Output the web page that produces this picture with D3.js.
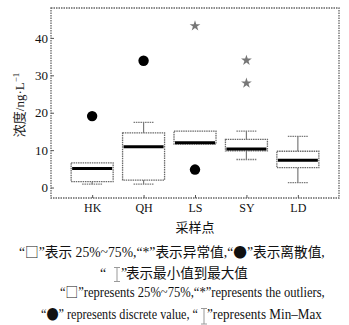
<!DOCTYPE html>
<html>
<head>
<meta charset="utf-8">
<script src="https://cdn.jsdelivr.net/npm/d3@7"></script>
<style>
  html, body { margin: 0; padding: 0; background: #fff; }
  svg { display: block; }
</style>
</head>
<body>
<svg id="chart" width="349" height="325"></svg>
<script>
// Sampling sites and box statistics (ng/L)
const sites = ["HK", "QH", "LS", "SY", "LD"];
const whiskerLow  = [0.9, 0.9, 11.6, 7.5, 1.3];
const q1          = [1.6, 2.0, 11.6, 9.8, 5.3];
const median      = [5.1, 10.9, 12.0, 10.3, 7.3];
const q3          = [6.6, 14.6, 15.1, 12.9, 9.7];
const whiskerHigh = [6.6, 17.4, 15.1, 15.1, 13.7];

// Discrete values (filled dots) and outliers (stars)
const discreteSites  = ["HK", "QH", "LS"];
const discreteValues = [19.1, 33.9, 4.8];
const outlierSites   = ["LS", "SY", "SY"];
const outlierValues  = [43.2, 34.0, 27.9];

const yTicks = [0, 10, 20, 30, 40];

const svg = d3.select("#chart");
const frame = { left: 51, right: 339, top: 8, bottom: 198 };

const x = d3.scalePoint().domain(sites).range([frame.left, frame.right]).padding(0.8);
const y = d3.scaleLinear().domain([-2.8, 48]).range([frame.bottom, frame.top]);

const serif = "'Liberation Serif', 'Times New Roman', serif";
const cjk = "'Noto Sans CJK SC', sans-serif";
const gray = "#7a7a7a";

// Plot frame (dotted)
svg.append("rect")
  .attr("x", frame.left).attr("y", frame.top)
  .attr("width", frame.right - frame.left).attr("height", frame.bottom - frame.top)
  .attr("fill", "none").attr("stroke", "#666").attr("stroke-width", 1.3)
  .attr("stroke-dasharray", "1.5,1");

// Y axis ticks and labels
const yAxis = d3.axisLeft(y).tickValues(yTicks).tickSizeInner(-3).tickSizeOuter(0).tickPadding(3);
const gy = svg.append("g").attr("transform", `translate(${frame.left},0)`).call(yAxis);
gy.select(".domain").remove();
gy.selectAll(".tick line").attr("stroke", "#555").attr("stroke-width", 1);
gy.selectAll(".tick text").attr("font-family", serif).attr("font-size", 13).attr("fill", "#111");

// X axis ticks and labels
const xAxis = d3.axisBottom(x).tickSizeInner(-3).tickSizeOuter(0).tickPadding(5);
const gx = svg.append("g").attr("transform", `translate(0,${frame.bottom})`).call(xAxis);
gx.select(".domain").remove();
gx.selectAll(".tick line").attr("stroke", "#555").attr("stroke-width", 1);
gx.selectAll(".tick text").attr("font-family", serif).attr("font-size", 12).attr("fill", "#111");

// Boxes with whiskers and medians
const boxW = 42, capW = 20;
const boxes = svg.append("g");
sites.forEach((s, i) => {
  const cx = x(s);
  const g = boxes.append("g");
  if (whiskerHigh[i] > q3[i]) {
    g.append("line").attr("x1", cx).attr("x2", cx)
      .attr("y1", y(q3[i])).attr("y2", y(whiskerHigh[i]))
      .attr("stroke", gray).attr("stroke-width", 1.2);
    g.append("line").attr("x1", cx - capW / 2).attr("x2", cx + capW / 2)
      .attr("y1", y(whiskerHigh[i])).attr("y2", y(whiskerHigh[i]))
      .attr("stroke", gray).attr("stroke-width", 1.3).attr("stroke-dasharray", "1.5,0.8");
  }
  if (whiskerLow[i] < q1[i]) {
    g.append("line").attr("x1", cx).attr("x2", cx)
      .attr("y1", y(q1[i])).attr("y2", y(whiskerLow[i]))
      .attr("stroke", gray).attr("stroke-width", 1.2);
    g.append("line").attr("x1", cx - capW / 2).attr("x2", cx + capW / 2)
      .attr("y1", y(whiskerLow[i])).attr("y2", y(whiskerLow[i]))
      .attr("stroke", gray).attr("stroke-width", 1.3).attr("stroke-dasharray", "1.5,0.8");
  }
  g.append("rect")
    .attr("x", cx - boxW / 2).attr("y", y(q3[i]))
    .attr("width", boxW).attr("height", y(q1[i]) - y(q3[i]))
    .attr("fill", "#fff").attr("stroke", "#6a6a6a").attr("stroke-width", 1.3)
    .attr("stroke-dasharray", "1.5,0.8");
  g.append("line")
    .attr("x1", cx - boxW / 2 + 1).attr("x2", cx + boxW / 2 - 1)
    .attr("y1", y(median[i])).attr("y2", y(median[i]))
    .attr("stroke", "#000").attr("stroke-width", 3);
});

// Discrete values
svg.append("g").selectAll("circle")
  .data(discreteValues)
  .join("circle")
  .attr("cx", (d, i) => x(discreteSites[i]))
  .attr("cy", d => y(d))
  .attr("r", 5.2)
  .attr("fill", "#000");

// Outliers
const star = d3.symbol().type(d3.symbolStar).size(36);
svg.append("g").selectAll("path")
  .data(outlierValues)
  .join("path")
  .attr("d", star)
  .attr("transform", (d, i) => `translate(${x(outlierSites[i])},${y(d)})`)
  .attr("fill", "#777");

// Axis titles
svg.append("text")
  .attr("x", x("LS")).attr("y", 232)
  .attr("text-anchor", "middle")
  .attr("font-family", cjk).attr("font-size", 13)
  .attr("fill", "#111")
  .text("采样点");

const yTitle = svg.append("text")
  .attr("transform", "translate(24,105) rotate(-90)")
  .attr("text-anchor", "middle")
  .attr("font-family", serif).attr("font-size", 13).attr("fill", "#222");
yTitle.append("tspan").attr("font-family", cjk).text("浓度");
yTitle.append("tspan").text("/ng·L");
yTitle.append("tspan").attr("dy", -5).attr("font-size", 9).text("−1");

// Legend notes: a run of mixed-font text, squeezed horizontally to a width
function run(x0, baseline, width, parts) {
  const g = svg.append("g");
  const t = g.append("text")
    .attr("x", 0).attr("y", 0)
    .attr("font-size", 14).attr("fill", "#111")
    .style("white-space", "pre");
  parts.forEach(([str, fam]) => {
    t.append("tspan").attr("font-family", fam === "c" ? cjk : serif).text(str);
  });
  const natural = t.node().getComputedTextLength();
  const sx = width ? width / natural : 1;
  g.attr("transform", `translate(${x0},${baseline}) scale(${sx},1)`);
  return g;
}

// Min–max marker: a vertical bar with end caps
function minMaxMark(cx, top, bottom) {
  const g = svg.append("g").attr("stroke", "#999").attr("stroke-width", 1);
  g.append("line").attr("x1", cx).attr("x2", cx).attr("y1", top).attr("y2", bottom);
  g.append("line").attr("x1", cx - 3).attr("x2", cx + 3).attr("y1", top).attr("y2", top);
  g.append("line").attr("x1", cx - 3).attr("x2", cx + 3).attr("y1", bottom).attr("y2", bottom);
}

run(19, 256.5, 306, [
  ["“", "s"], ["□", "c"], ["”", "s"], ["表示", "c"],
  [" 25%~75%,“*”", "s"], ["表示异常值", "c"],
  [",“", "s"], ["●", "c"], ["”", "s"], ["表示离散值", "c"], [",", "s"]
]);

run(100, 278, null, [["“", "s"]]);
minMaxMark(117, 267.5, 281.5);
run(121, 278, null, [["”", "s"]]);
run(126, 278, 122, [["表示最小值到最大值", "c"]]);

run(60, 296.5, 265, [
  ["“", "s"], ["□", "c"], ["”represents 25%~75%,“*”represents the outliers,", "s"]
]);

run(41, 319, 157, [
  ["“", "s"], ["●", "c"], ["” represents discrete value, “", "s"]
]);
minMaxMark(204, 308.5, 324);
run(207, 319, 115, [["”represents Min–Max", "s"]]);
</script>
</body>
</html>
